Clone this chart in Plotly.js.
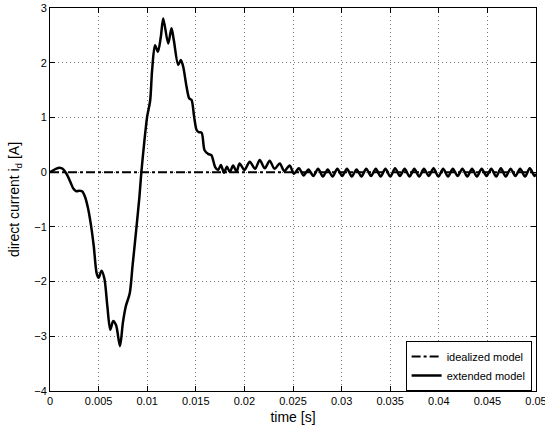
<!DOCTYPE html>
<html>
<head>
<meta charset="utf-8">
<script src="https://cdn.plot.ly/plotly-3.0.1.min.js"></script>
<style>html,body{margin:0;padding:0;background:#fff;}#plot{width:545px;height:425px;}</style>
</head>
<body>
<div id="plot"></div>
<script>
// ---- data ----
const xTickVals = [0, 0.005, 0.01, 0.015, 0.02, 0.025, 0.03, 0.035, 0.04, 0.045, 0.05];
const xTickText = ["0", "0.005", "0.01", "0.015", "0.02", "0.025", "0.03", "0.035", "0.04", "0.045", "0.05"];
const yTickVals = [-4, -3, -2, -1, 0, 1, 2, 3];

const idealT = [0, 0.05];
const idealI = [0, 0];

const extT = [
  0, 0.0003, 0.0006, 0.001, 0.0013, 0.0017, 0.0021, 0.0024, 0.0027, 0.003,
  0.0033, 0.0036, 0.0039, 0.0042, 0.0045, 0.0048, 0.005, 0.0053, 0.0056, 0.0059,
  0.0062, 0.0065, 0.0068, 0.0072, 0.0075, 0.0078, 0.0082, 0.0085, 0.0089, 0.0092,
  0.0094, 0.0097, 0.01, 0.0103, 0.0105, 0.0108, 0.0111, 0.0114, 0.01165, 0.01216,
  0.0125, 0.01274, 0.01319, 0.01346, 0.0137, 0.01405, 0.01432, 0.01456, 0.01483, 0.01508,
  0.0153, 0.0156, 0.0159, 0.0163, 0.0166, 0.017, 0.0173, 0.01758, 0.0179, 0.0182,
  0.0185, 0.01884, 0.0192, 0.0195, 0.02, 0.02055, 0.0211, 0.02158, 0.0221, 0.0226,
  0.0231, 0.02364, 0.0241, 0.02466, 0.0251,
  0.0256, 0.0261, 0.02659, 0.02709, 0.02758, 0.02808, 0.02857, 0.02907, 0.02956, 0.03006,
  0.03055, 0.03105, 0.03154, 0.03204, 0.03253, 0.03303, 0.03352, 0.03402, 0.03451, 0.03501,
  0.0355, 0.036, 0.03649, 0.03699, 0.03748, 0.03798, 0.03847, 0.03897, 0.03946, 0.03996,
  0.04045, 0.04095, 0.04144, 0.04194, 0.04243, 0.04293, 0.04342, 0.04392, 0.04441, 0.04491,
  0.0454, 0.0459, 0.04639, 0.04689, 0.04738, 0.04788, 0.04837, 0.04887, 0.04936, 0.04985,
  0.05
];
const extI = [
  0, 0.03, 0.06, 0.08, 0.06, -0.03, -0.18, -0.3, -0.35, -0.34,
  -0.35, -0.45, -0.65, -0.95, -1.35, -1.85, -1.93, -1.8, -1.95, -2.45,
  -2.88, -2.72, -2.8, -3.18, -2.75, -2.45, -2.22, -1.7, -1.0, -0.45,
  0, 0.55, 1.02, 1.3, 1.85, 2.32, 2.2, 2.47, 2.81, 2.35,
  2.63, 2.41, 1.96, 2.05, 1.93, 1.56, 1.35, 1.32, 1.01, 0.77,
  0.73, 0.72, 0.4, 0.33, 0.31, 0.09, 0.04, 0.13, -0.01, 0.1,
  0.0, 0.12, 0.01, 0.16, 0.04, 0.19, 0.06, 0.22, 0.07, 0.21,
  0.06, 0.16, 0.02, 0.12, -0.03,
  0.07, -0.06, 0.05, -0.07, 0.06, -0.08, 0.05, -0.08, 0.06, -0.07,
  0.06, -0.08, 0.05, -0.08, 0.06, -0.07, 0.06, -0.08, 0.06, -0.08,
  0.07, -0.07, 0.06, -0.08, 0.06, -0.08, 0.06, -0.07, 0.07, -0.08,
  0.06, -0.08, 0.06, -0.07, 0.06, -0.08, 0.06, -0.08, 0.06, -0.07,
  0.06, -0.08, 0.07, -0.08, 0.06, -0.07, 0.06, -0.08, 0.07, -0.07,
  -0.03
];

// ---- chart ----
const FONT = '"Liberation Sans", Arial, Helvetica, sans-serif';
const traces = [
  {x: idealT, y: idealI, type: 'scatter', mode: 'lines', name: 'idealized model',
   line: {color: '#000', width: 2, dash: 'dashdot'}},
  {x: extT, y: extI, type: 'scatter', mode: 'lines', name: 'extended model',
   line: {color: '#000', width: 2.5, shape: 'spline', smoothing: 0.8}}
];
const axisCommon = {
  showline: true, linecolor: '#000', linewidth: 1, mirror: 'allticks',
  ticks: 'inside', ticklen: 5, tickcolor: '#000', tickwidth: 1,
  showgrid: true, gridcolor: '#777', griddash: '1px,3px', gridwidth: 1,
  zeroline: false, ticklabeloverflow: 'allow',
  tickfont: {family: FONT, size: 11, color: '#000'}
};
const layout = {
  width: 545, height: 425,
  margin: {l: 50, r: 8.5, t: 8, b: 33.5},
  paper_bgcolor: '#fff', plot_bgcolor: '#fff',
  showlegend: true,
  xaxis: Object.assign({}, axisCommon, {
    range: [0, 0.0500001], tickmode: 'array', tickvals: xTickVals, ticktext: xTickText,
    title: {text: 'time [s]', font: {family: FONT, size: 14, color: '#000'}, standoff: 5}
  }),
  yaxis: Object.assign({}, axisCommon, {
    range: [-4, 3], tickmode: 'array', tickvals: yTickVals,
    title: {text: 'direct current i<sub>d</sub> [A]', font: {family: FONT, size: 14, color: '#000'}, standoff: 11}
  }),
  legend: {
    x: 0.991, xanchor: 'right', y: 0.0, yanchor: 'bottom',
    bgcolor: '#fff', bordercolor: '#000', borderwidth: 1,
    font: {family: FONT, size: 11, color: '#000'},
    itemwidth: 30, tracegroupgap: 0
  }
};
Plotly.newPlot('plot', traces, layout, {displayModeBar: false, staticPlot: true});
</script>
</body>
</html>
